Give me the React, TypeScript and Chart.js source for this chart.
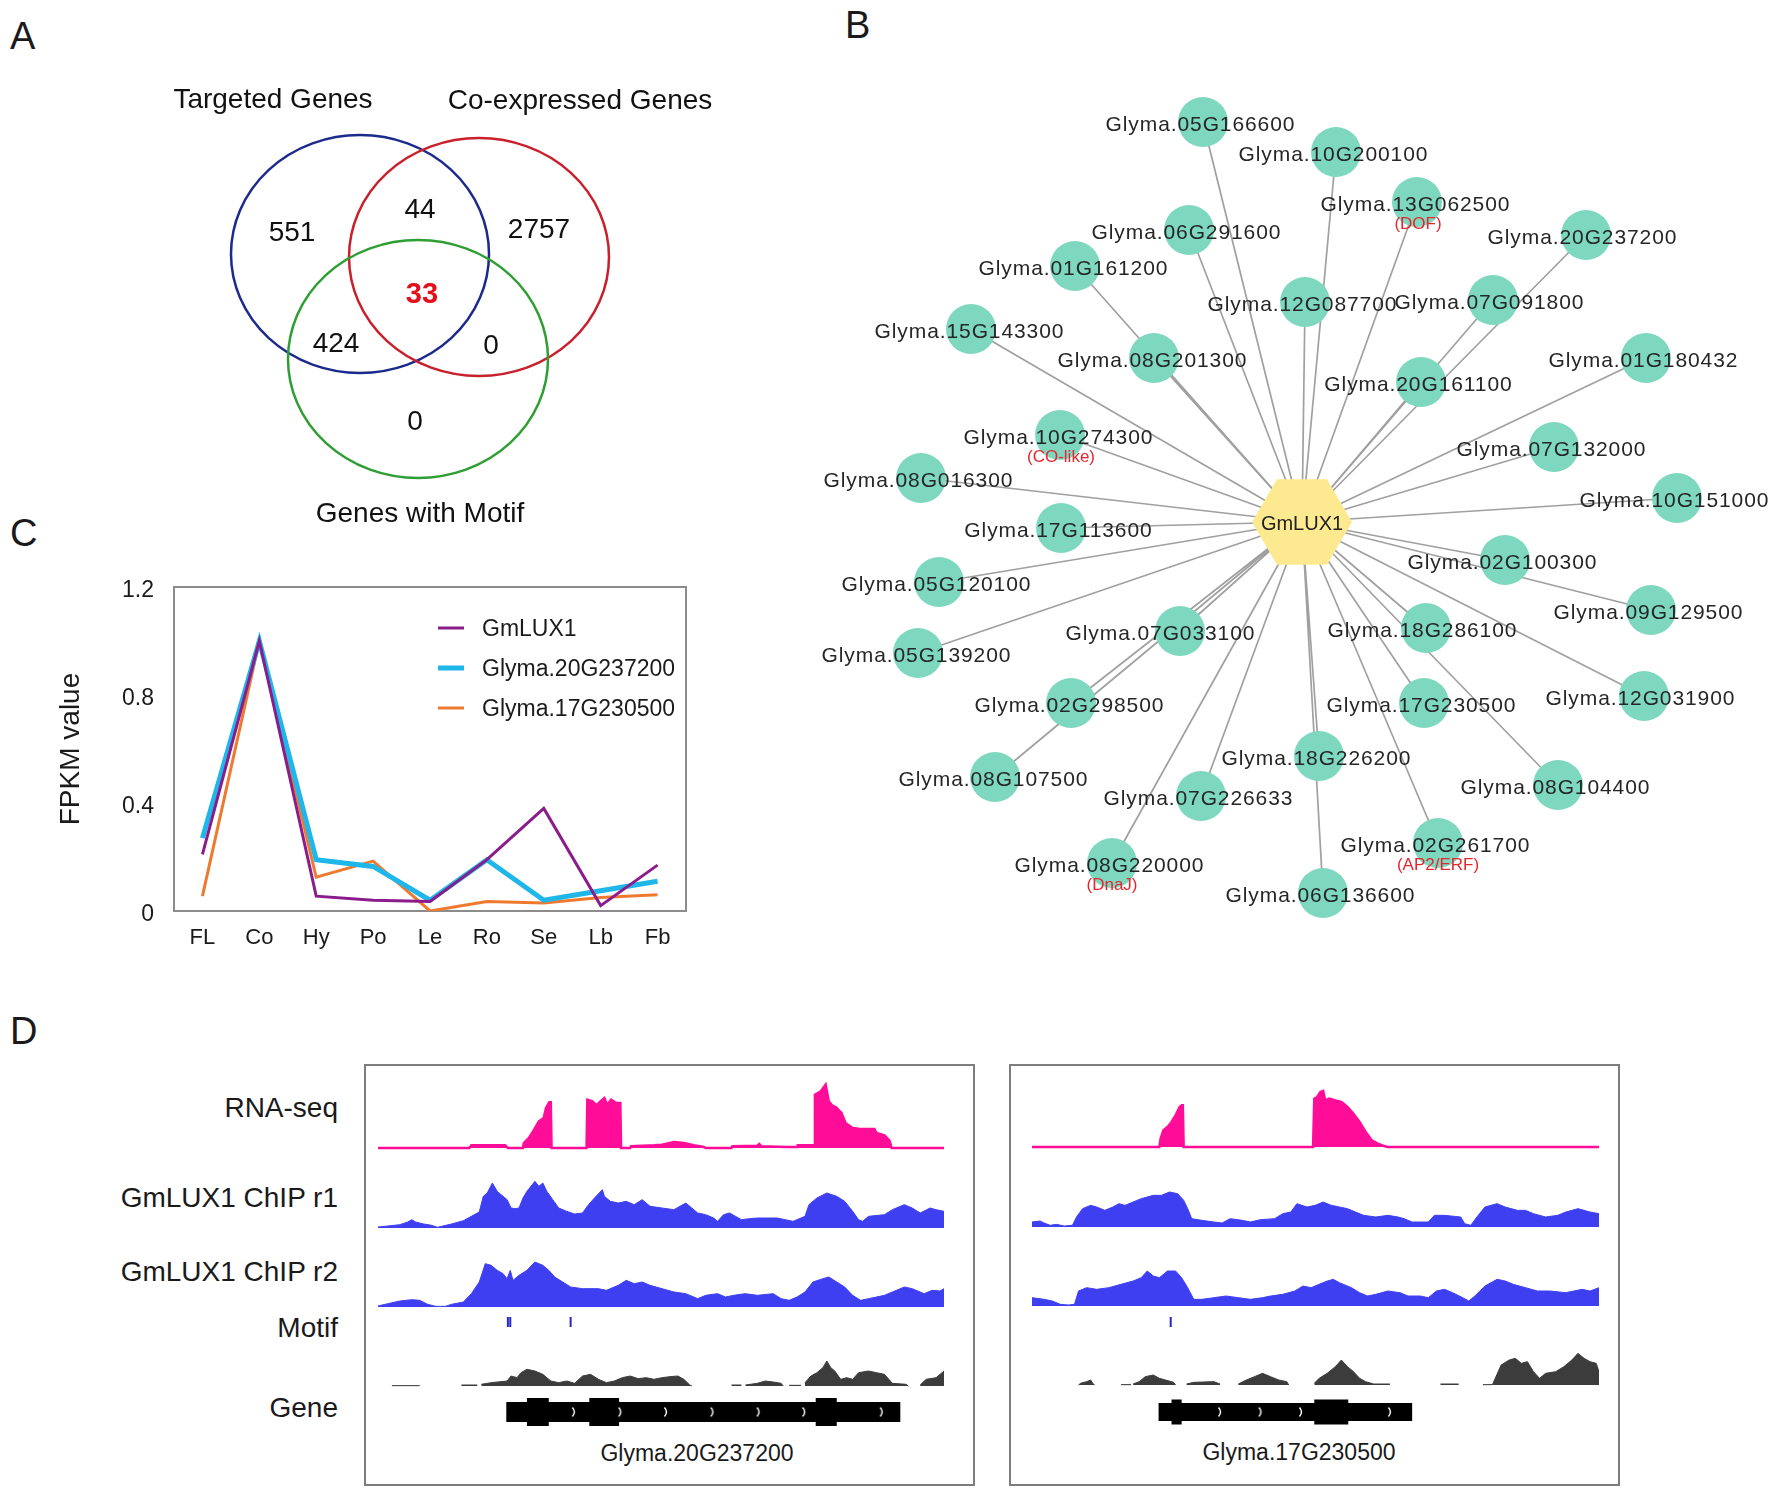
import React, { useEffect, useRef } from 'react';
import { Chart, registerables } from 'chart.js';
Chart.register(...registerables);

const FONT = 'Arial, "Liberation Sans", Helvetica, sans-serif';

// ---------------- Panel A : Venn ----------------
const vennSetNames = ['Targeted Genes', 'Co-expressed Genes', 'Genes with Motif'];
const vennSetColors = ['#1c2a8c', '#c8202c', '#2f9e35'];
// regions: T only, T∩C, C only, T∩M, T∩C∩M, C∩M, M only
const vennRegionCounts = [551, 44, 2757, 424, 33, 0, 0];
const vennHighlight = 4;

// ---------------- Panel B : network ----------------
const hubGene = 'GmLUX1';
const targetGenes = [
  'Glyma.05G166600', 'Glyma.10G200100', 'Glyma.13G062500', 'Glyma.20G237200', 'Glyma.06G291600',
  'Glyma.01G161200', 'Glyma.12G087700', 'Glyma.07G091800', 'Glyma.15G143300', 'Glyma.08G201300',
  'Glyma.01G180432', 'Glyma.20G161100', 'Glyma.10G274300', 'Glyma.07G132000', 'Glyma.08G016300',
  'Glyma.10G151000', 'Glyma.17G113600', 'Glyma.05G120100', 'Glyma.02G100300', 'Glyma.09G129500',
  'Glyma.05G139200', 'Glyma.07G033100', 'Glyma.18G286100', 'Glyma.12G031900', 'Glyma.02G298500',
  'Glyma.17G230500', 'Glyma.18G226200', 'Glyma.08G107500', 'Glyma.08G104400', 'Glyma.07G226633',
  'Glyma.02G261700', 'Glyma.08G220000', 'Glyma.06G136600',
];
const targetFamilies = [
  '', '', '(DOF)', '', '', '', '', '', '', '', '', '', '(CO-like)', '', '', '', '', '', '', '',
  '', '', '', '', '', '', '', '', '', '', '(AP2/ERF)', '(DnaJ)', '',
];
// network layout coordinates (Cytoscape-like layout units)
const layoutX = [
  1203, 1336, 1417, 1586, 1189, 1075, 1305, 1493, 971, 1154, 1646, 1421, 1060, 1554, 921, 1677, 1061,
  939, 1505, 1651, 918, 1180, 1426, 1644, 1071, 1424, 1319, 995, 1558, 1201, 1438, 1112, 1323,
];
const layoutY = [
  122, 152, 202, 235, 230, 266, 302, 300, 329, 358, 358, 382, 435, 447, 478, 498, 528,
  582, 560, 610, 653, 631, 628, 696, 703, 703, 756, 777, 785, 796, 843, 863, 893,
];
const hubLayout = { x: 1302, y: 522 };

// ---------------- Panel C : expression ----------------
const tissues = ['FL', 'Co', 'Hy', 'Po', 'Le', 'Ro', 'Se', 'Lb', 'Fb'];
const fpkmGmLUX1 = [0.21, 1.0, 0.055, 0.04, 0.035, 0.19, 0.38, 0.02, 0.17];
const fpkm20G237200 = [0.27, 1.0, 0.19, 0.165, 0.04, 0.19, 0.04, 0.075, 0.11];
const fpkm17G230500 = [0.055, 1.0, 0.125, 0.185, 0.0, 0.035, 0.03, 0.05, 0.06];
const fpkmTicks = [0, 0.4, 0.8, 1.2];

// ---------------- Panel D : tracks ----------------
const trackNames = ['RNA-seq', 'GmLUX1 ChIP r1', 'GmLUX1 ChIP r2', 'Motif', 'Gene'];
const locusNames = ['Glyma.20G237200', 'Glyma.17G230500'];
const windowLeft = [45, 1470];
const windowRight = [80, 1482];

const rnaLeft = [[45,0],[275,0],[280,8],[365,8],[372,0],[410,0],[412,15],[425,30],[438,55],[450,80],[462,90],[468,120],[476,137],[480,137],[482,0],[570,0],[572,145],[585,140],[595,128],[605,140],[615,150],[622,130],[632,145],[645,135],[655,135],[657,0],[680,0],[682,5],[740,8],[760,10],[790,18],[815,15],[840,8],[865,3],[870,0],[935,0],[937,5],[1000,7],[1005,12],[1010,5],[1075,3],[1100,3],[1102,8],[1143,8],[1145,160],[1160,170],[1172,190],[1180,140],[1188,128],[1198,122],[1212,105],[1222,75],[1240,60],[1255,58],[1295,57],[1300,45],[1320,38],[1333,22],[1338,0],[1470,0]];
const chip1Left = [[45,3],[70,6],[100,10],[120,18],[130,25],[140,18],[160,12],[180,8],[195,2],[205,5],[230,12],[260,22],[280,35],[300,48],[310,95],[320,105],[333,135],[345,110],[355,100],[370,85],[380,60],[390,58],[400,60],[410,90],[420,110],[440,140],[450,125],[460,135],[470,110],[485,85],[500,60],[520,50],[540,42],[560,45],[575,70],[590,90],[610,115],[615,95],[630,80],[650,75],[670,80],[690,70],[710,85],[730,65],[760,60],[790,55],[820,75],[835,60],[850,45],[870,40],[890,30],[900,20],[915,40],[930,45],[945,35],[960,25],[980,28],[1000,30],[1050,30],[1070,25],[1090,20],[1100,25],[1120,35],[1130,70],[1150,90],[1175,105],[1200,95],[1220,80],[1240,50],[1255,25],[1265,20],[1280,35],[1320,40],[1340,55],[1370,70],[1390,60],[1410,45],[1435,60],[1450,55],[1470,50]];
const chip2Left = [[45,3],[70,10],[100,18],[130,22],[150,20],[170,8],[190,2],[215,2],[230,8],[260,15],[280,40],[300,75],[315,130],[330,125],[345,110],[360,100],[370,85],[378,110],[385,80],[400,95],[420,110],[440,135],[460,125],[475,110],[490,90],[510,75],[530,60],[560,55],[600,55],[620,50],[650,65],[670,80],[690,70],[710,75],[730,65],[760,55],[790,45],[820,40],[850,25],[870,35],[900,40],[920,30],[940,35],[970,40],[1000,35],[1040,40],[1060,25],[1080,20],[1100,30],[1120,45],[1140,75],[1165,85],[1180,90],[1200,75],[1220,60],[1240,35],[1260,20],[1280,25],[1320,35],[1340,45],[1370,60],[1390,55],[1420,40],[1440,50],[1460,48],[1470,55]];
const otherLeft = [[80,1],[150,1],[152,null],[255,3],[295,3],[300,null],[305,5],[330,10],[370,15],[380,30],[395,25],[405,40],[420,50],[440,45],[460,35],[480,15],[500,10],[520,15],[540,8],[560,30],[580,35],[600,20],[620,10],[640,15],[660,25],[680,30],[700,22],[720,25],[740,20],[760,25],[780,28],[800,30],[815,20],[830,3],[835,0],[840,null],[935,3],[960,3],[965,null],[970,3],[1000,8],[1020,15],[1040,12],[1060,8],[1065,0],[1070,null],[1080,2],[1110,2],[1115,null],[1120,10],[1135,30],[1150,40],[1165,55],[1175,75],[1185,55],[1195,45],[1210,20],[1225,25],[1240,20],[1255,40],[1280,45],[1300,40],[1320,35],[1340,8],[1375,5],[1380,0],[1385,null],[1410,3],[1425,20],[1450,25],[1465,40],[1470,45]];
const motifLeft = [372, 378, 530];
const geneBodyLeft = [368, 1360];
const exonsLeft = [[420, 475], [577, 652], [1147, 1200]];
const strandMarksLeft = [538, 655, 770, 887, 1003, 1118, 1313];

const rnaRight = [[80,0],[395,0],[398,25],[405,50],[415,60],[425,75],[435,95],[445,120],[450,125],[453,125],[455,0],[775,0],[778,145],[785,150],[793,165],[800,168],[805,140],[815,145],[830,140],[845,135],[860,120],[875,100],[890,75],[905,45],[920,20],[935,10],[950,3],[960,0],[1482,0]];
const chip1Right = [[80,15],[100,18],[110,12],[125,5],[140,8],[160,3],[180,5],[190,30],[205,55],[225,65],[240,60],[260,50],[280,60],[295,70],[310,65],[330,75],[350,85],[365,90],[380,95],[400,95],[420,105],[440,100],[455,80],[465,55],[475,25],[500,20],[530,15],[550,12],[570,25],[600,20],[620,15],[645,22],[680,25],[700,40],[720,45],[735,70],[760,60],[780,65],[800,75],[820,65],[840,60],[860,55],[880,45],[900,35],[930,30],[960,35],[985,30],[1000,25],[1020,15],[1060,15],[1075,35],[1100,35],[1140,30],[1150,10],[1165,5],[1180,30],[1200,60],[1230,70],[1250,60],[1280,50],[1300,50],[1320,40],[1350,30],[1380,35],[1400,45],[1430,55],[1460,45],[1482,40]];
const chip2Right = [[80,25],[110,20],[130,15],[150,5],[170,3],[185,5],[195,45],[215,55],[240,50],[270,55],[300,65],[330,75],[350,85],[365,105],[380,90],[395,85],[415,105],[435,105],[450,85],[465,55],[480,20],[500,20],[530,25],[560,30],[590,25],[620,20],[650,25],[670,30],[700,35],[730,45],[750,60],[770,55],[790,65],[810,75],[825,80],[840,70],[870,55],[890,40],[910,30],[930,35],[960,45],[990,40],[1010,30],[1040,30],[1060,25],[1080,45],[1100,50],[1120,40],[1145,25],[1160,15],[1175,30],[1200,60],[1230,80],[1250,75],[1270,65],[1300,55],[1330,45],[1360,45],[1400,40],[1440,50],[1460,45],[1482,55]];
const otherRight = [[195,0],[200,5],[215,10],[225,15],[230,5],[235,0],[240,null],[300,1],[325,1],[328,null],[330,3],[345,10],[360,25],[380,30],[395,20],[410,15],[430,8],[435,0],[440,null],[462,3],[480,8],[530,10],[545,3],[550,null],[590,3],[610,15],[630,25],[650,35],[670,25],[690,15],[710,10],[715,0],[720,null],[778,5],[790,20],[810,35],[830,55],[845,75],[860,55],[875,40],[890,20],[905,10],[925,3],[965,3],[970,null],[1090,3],[1135,3],[1140,null],[1195,1],[1218,1],[1220,5],[1240,60],[1260,75],[1275,80],[1290,65],[1305,70],[1320,40],[1335,20],[1350,35],[1375,40],[1395,55],[1415,75],[1430,95],[1445,80],[1460,70],[1475,65],[1482,40]];
const motifRight = [423];
const geneBodyRight = [393, 1020];
const exonsRight = [[425, 450], [778, 862]];
const strandMarksRight = [545, 645, 745, 965];

// ---------------- layout (positions / styles only) ----------------
const L = {
  venn: {
    canvas: { left: 0, top: 0, width: 780, height: 540 },
    circles: [
      { cx: 360, cy: 254, rx: 129, ry: 119 },
      { cx: 479, cy: 257, rx: 130, ry: 119 },
      { cx: 418, cy: 359, rx: 130, ry: 119 },
    ],
    titles: [[273, 98], [580, 99], [420, 512]],
    regions: [[292, 231], [420, 208], [539, 228], [336, 342], [422, 293], [491, 344], [415, 420]],
  },
  net: {
    canvas: { left: 780, top: 60, width: 992, height: 880 },
    labelDx: [-3, -3, -2, -4, -3, -2, -3, -4, -2, -2, -3, -3, -2, -3, -3, -3, -3, -3, -3, -3, -2, -20, -4, -4, -2, -3, -3, -2, -3, -3, -3, -3, -3],
  },
  expr: { canvas: { left: 0, top: 540, width: 730, height: 440 } },
  tracks: {
    colLeft: { left: 378, width: 566 },
    colRight: { left: 1032, width: 567 },
  },
};

function makeCanvasImage(w: number, h: number, draw: (ctx: CanvasRenderingContext2D) => void) {
  const c = document.createElement('canvas');
  c.width = w; c.height = h;
  const ctx = c.getContext('2d')!;
  draw(ctx);
  return c;
}

function capText(ctx: any, text: string, x: number, cy: number, size: number, opts: any = {}) {
  ctx.save();
  ctx.font = `${opts.weight || 'normal'} ${size}px ${FONT}`;
  ctx.fillStyle = opts.color || '#1a1a1a';
  ctx.textAlign = opts.align || 'center';
  ctx.textBaseline = 'alphabetic';
  if (opts.spacing) ctx.letterSpacing = opts.spacing + 'px';
  const shift = opts.spacing && (opts.align || 'center') === 'center' ? opts.spacing / 2 : 0;
  ctx.fillText(text, x + shift, cy + 0.358 * size);
  ctx.restore();
}

const baseOptions = (xMin: number, xMax: number, yMin: number, yMax: number, yReverse = false) => ({
  animation: false,
  responsive: false,
  maintainAspectRatio: false,
  events: [],
  layout: { padding: 0, autoPadding: false },
  plugins: { legend: { display: false }, tooltip: { enabled: false } },
  scales: {
    x: { type: 'linear', display: false, min: xMin, max: xMax },
    y: { type: 'linear', display: false, min: yMin, max: yMax, reverse: yReverse },
  },
});

function ChartCanvas({ box, make }: any) {
  const ref = useRef<HTMLCanvasElement>(null);
  useEffect(() => {
    const chart = new Chart(ref.current as HTMLCanvasElement, make());
    return () => chart.destroy();
  }, []);
  return (
    <canvas
      ref={ref}
      width={box.width}
      height={box.height}
      style={{ position: 'absolute', left: box.left, top: box.top, width: box.width, height: box.height }}
    />
  );
}

function TextLabel({ x, y, size, align = 'left', color = '#1a1a1a', children }: any) {
  const style: any = {
    position: 'absolute', top: y - 0.4885 * size, fontSize: size, lineHeight: size + 'px',
    fontFamily: FONT, color, whiteSpace: 'nowrap',
  };
  if (align === 'left') style.left = x;
  else if (align === 'right') { style.left = x - 1000; style.width = 1000; style.textAlign = 'right'; }
  else { style.left = x - 500; style.width = 1000; style.textAlign = 'center'; }
  return <div style={style}>{children}</div>;
}

// ---------- Venn config
function vennConfig() {
  const V = L.venn;
  const plugin = {
    id: 'venn',
    afterDatasetsDraw(chart: any) {
      const { ctx } = chart;
      const sx = chart.scales.x, sy = chart.scales.y;
      V.circles.forEach((c, i) => {
        const px = sx.getPixelForValue(c.cx), py = sy.getPixelForValue(c.cy);
        const rx = Math.abs(sx.getPixelForValue(c.cx + c.rx) - px);
        const ry = Math.abs(sy.getPixelForValue(c.cy + c.ry) - py);
        ctx.save();
        ctx.strokeStyle = vennSetColors[i];
        ctx.lineWidth = 2.5;
        ctx.beginPath();
        ctx.ellipse(px, py, rx, ry, 0, 0, Math.PI * 2);
        ctx.stroke();
        ctx.restore();
      });
      vennSetNames.forEach((n, i) => {
        const [x, y] = V.titles[i];
        capText(ctx, n, sx.getPixelForValue(x), sy.getPixelForValue(y), 28, { color: '#111' });
      });
      vennRegionCounts.forEach((v, i) => {
        const [x, y] = V.regions[i];
        const hi = i === vennHighlight;
        capText(ctx, String(v), sx.getPixelForValue(x), sy.getPixelForValue(y), hi ? 29 : 28,
          { color: hi ? '#e3101c' : '#111', weight: hi ? 'bold' : 'normal' });
      });
    },
  };
  return {
    type: 'scatter',
    data: { datasets: [{ data: V.circles.map((c) => ({ x: c.cx, y: c.cy })), pointRadius: 0 }] },
    options: baseOptions(0, V.canvas.width, 0, V.canvas.height, true),
    plugins: [plugin],
  };
}

// ---------- Network config
function networkConfig() {
  const C = L.net.canvas;
  const edges: any[] = [];
  targetGenes.forEach((_, i) => {
    edges.push({ x: hubLayout.x, y: hubLayout.y }, { x: layoutX[i], y: layoutY[i] }, { x: NaN, y: NaN });
  });
  const hex = makeCanvasImage(102, 90, (ctx) => {
    const r = 50, cx = 51, cy = 45;
    ctx.fillStyle = '#fde98f';
    ctx.beginPath();
    for (let k = 0; k < 6; k++) {
      const a = (Math.PI / 3) * k;
      const x = cx + r * Math.cos(a), y = cy + r * Math.sin(a) * 0.99;
      if (k === 0) ctx.moveTo(x, y); else ctx.lineTo(x, y);
    }
    ctx.closePath();
    ctx.fill();
  });
  const labels = {
    id: 'netLabels',
    afterDatasetsDraw(chart: any) {
      const { ctx } = chart;
      const sx = chart.scales.x, sy = chart.scales.y;
      targetGenes.forEach((g, i) => {
        const px = sx.getPixelForValue(layoutX[i]) + L.net.labelDx[i];
        const py = sy.getPixelForValue(layoutY[i]);
        capText(ctx, g, px, py + 1, 21, { color: '#262626', spacing: 0.9 });
        if (targetFamilies[i]) capText(ctx, targetFamilies[i], px + 3, py + 21, 17, { color: '#e5262e' });
      });
      capText(ctx, hubGene, sx.getPixelForValue(hubLayout.x), sy.getPixelForValue(hubLayout.y) + 1, 20, { color: '#222' });
    },
  };
  return {
    type: 'scatter',
    data: {
      datasets: [
        { data: [{ x: hubLayout.x, y: hubLayout.y }], pointStyle: hex, pointRadius: 50, order: 1 },
        { data: targetGenes.map((_, i) => ({ x: layoutX[i], y: layoutY[i] })), pointRadius: 25,
          backgroundColor: '#7dd8bf', borderWidth: 0, order: 2 },
        { data: edges, showLine: true, spanGaps: false, borderColor: '#a0a0a0', borderWidth: 1.7,
          pointRadius: 0, order: 3 },
      ],
    },
    options: baseOptions(C.left, C.left + C.width, C.top, C.top + C.height, true),
    plugins: [labels],
  };
}

// ---------- Expression config
function exprConfig() {
  const series = [
    { label: 'GmLUX1', data: fpkmGmLUX1, color: '#8b1c8c', w: 3 },
    { label: 'Glyma.20G237200', data: fpkm20G237200, color: '#1fb6ea', w: 5 },
    { label: 'Glyma.17G230500', data: fpkm17G230500, color: '#ee7a2f', w: 3 },
  ];
  const boxPlugin = {
    id: 'box',
    beforeDatasetsDraw(chart: any) {
      const { ctx, chartArea: a } = chart;
      ctx.save();
      ctx.strokeStyle = '#8c8c8c';
      ctx.lineWidth = 2;
      ctx.strokeRect(a.left, a.top, a.right - a.left, a.bottom - a.top);
      ctx.restore();
    },
  };
  const legendPlugin = {
    id: 'lgd',
    afterDraw(chart: any) {
      const { ctx } = chart;
      chart.data.datasets.forEach((d: any, i: number) => {
        const y = 88 + 40 * i;
        ctx.save();
        ctx.strokeStyle = d.borderColor;
        ctx.lineWidth = d.borderWidth;
        ctx.beginPath();
        ctx.moveTo(438, y);
        ctx.lineTo(464, y);
        ctx.stroke();
        ctx.restore();
        capText(ctx, d.label, 482, y, 23, { align: 'left', color: '#1a1a1a' });
      });
    },
  };
  return {
    type: 'line',
    data: {
      labels: tissues,
      datasets: series.map((s) => ({
        label: s.label, data: s.data, borderColor: s.color, backgroundColor: s.color,
        borderWidth: s.w, pointRadius: 0, tension: 0, fill: false,
      })),
    },
    options: {
      animation: false,
      responsive: false,
      maintainAspectRatio: false,
      events: [],
      layout: { padding: { left: 0, top: 47, right: 44, bottom: 0 }, autoPadding: false },
      plugins: { legend: { display: false }, tooltip: { enabled: false } },
      scales: {
        x: {
          type: 'category', offset: true,
          grid: { display: false, drawTicks: false }, border: { display: false },
          ticks: { padding: 14, color: '#1a1a1a', font: { family: FONT, size: 22 } },
          afterFit: (s: any) => { s.height = 69; },
        },
        y: {
          type: 'linear', min: 0, max: 1.2,
          grid: { display: false, drawTicks: false }, border: { display: false },
          afterBuildTicks: (s: any) => { s.ticks = fpkmTicks.map((v) => ({ value: v })); },
          ticks: {
            padding: 20, labelOffset: 4, color: '#1a1a1a', font: { family: FONT, size: 23 },
            callback: (v: any) => (v === 0 ? '0' : Number(v).toFixed(1)),
          },
          title: {
            display: true, text: 'FPKM value', color: '#1a1a1a',
            font: { family: FONT, size: 28 }, padding: { top: 54, bottom: 0 },
          },
          afterFit: (s: any) => { s.width = 174; },
        },
      },
    },
    plugins: [boxPlugin, legendPlugin],
  };
}

// ---------- track configs
function coverageConfig(points: any[], win: number[], color: string, above: number, lineW: number) {
  const below = 2;
  return () => ({
    type: 'line',
    data: {
      datasets: [{
        data: points.map(([x, y]) => ({ x, y })),
        borderColor: color, backgroundColor: color, borderWidth: lineW,
        fill: 'origin', pointRadius: 0, tension: 0, spanGaps: false,
      }],
    },
    options: baseOptions(win[0], win[1], -below * 3, above * 3),
  });
}

function motifConfig(sites: number[], win: number[]) {
  return () => ({
    type: 'scatter',
    data: {
      datasets: [{
        data: sites.map((x) => ({ x, y: 0 })), pointStyle: 'line', rotation: 90,
        pointRadius: 5, borderWidth: 2, borderColor: '#2626c9',
      }],
    },
    options: baseOptions(win[0], win[1], -1, 1),
  });
}

function geneConfig(body: number[], exons: number[][], marks: number[], win: number[], bodyW: number, exonW: number) {
  const exonPts: any[] = [];
  exons.forEach(([s, e]) => exonPts.push({ x: s, y: 0 }, { x: e, y: 0 }, { x: NaN, y: NaN }));
  const chevron = makeCanvasImage(8, 12, (ctx) => {
    ctx.strokeStyle = '#ffffff';
    ctx.lineWidth = 1.4;
    ctx.beginPath();
    ctx.moveTo(2.5, 1.5);
    ctx.quadraticCurveTo(6.5, 6, 2.5, 10.5);
    ctx.stroke();
  });
  return () => ({
    type: 'scatter',
    data: {
      datasets: [
        { data: marks.map((x) => ({ x, y: 0 })), pointStyle: chevron, pointRadius: 6, order: 0 },
        { data: exonPts, showLine: true, spanGaps: false, borderColor: '#000', borderWidth: exonW,
          borderCapStyle: 'butt', pointRadius: 0, order: 1 },
        { data: body.map((x) => ({ x, y: 0 })), showLine: true, borderColor: '#000', borderWidth: bodyW,
          borderCapStyle: 'butt', pointRadius: 0, order: 2 },
      ],
    },
    options: baseOptions(win[0], win[1], -1, 1),
  });
}

function TrackColumn({ col, win, rna, chip1, chip2, other, motif, body, exons, marks, base, bodyW, exonW }: any) {
  const mk = (top: number, height: number) => ({ left: col.left, width: col.width, top, height });
  return (
    <>
      <ChartCanvas box={mk(base.rna - 70, 72)} make={coverageConfig(rna, win, '#ff0d98', 70, 2.5)} />
      <ChartCanvas box={mk(base.r1 - 52, 54)} make={coverageConfig(chip1, win, '#3f3ff2', 52, 1)} />
      <ChartCanvas box={mk(base.r2 - 52, 54)} make={coverageConfig(chip2, win, '#3f3ff2', 52, 1)} />
      <ChartCanvas box={mk(1312, 20)} make={motifConfig(motif, win)} />
      <ChartCanvas box={mk(base.other - 36, 38)} make={coverageConfig(other, win, '#3c3c3c', 36, 1)} />
      <ChartCanvas box={mk(1392, 40)} make={geneConfig(body, exons, marks, win, bodyW, exonW)} />
    </>
  );
}

export default function App() {
  const boxStyle = (left: number): any => ({
    position: 'absolute', left, top: 1064, width: 611, height: 422,
    border: '2px solid #7d7d7d', boxSizing: 'border-box',
  });
  return (
    <div style={{ position: 'absolute', left: 0, top: 0, width: 1772, height: 1497, background: '#fff', overflow: 'hidden' }}>
      <TextLabel x={10} y={36} size={38}>A</TextLabel>
      <TextLabel x={845} y={25} size={38}>B</TextLabel>
      <TextLabel x={10} y={533} size={38}>C</TextLabel>
      <TextLabel x={10} y={1031} size={38}>D</TextLabel>

      <ChartCanvas box={L.venn.canvas} make={vennConfig} />
      <ChartCanvas box={L.net.canvas} make={networkConfig} />
      <ChartCanvas box={L.expr.canvas} make={exprConfig} />

      <div style={boxStyle(364)} />
      <div style={boxStyle(1009)} />

      <TextLabel x={338} y={1108} size={28} align="right">{trackNames[0]}</TextLabel>
      <TextLabel x={338} y={1198} size={28} align="right">{trackNames[1]}</TextLabel>
      <TextLabel x={338} y={1272} size={28} align="right">{trackNames[2]}</TextLabel>
      <TextLabel x={338} y={1328} size={28} align="right">{trackNames[3]}</TextLabel>
      <TextLabel x={338} y={1408} size={28} align="right">{trackNames[4]}</TextLabel>

      <TrackColumn
        col={L.tracks.colLeft} win={windowLeft} rna={rnaLeft} chip1={chip1Left} chip2={chip2Left}
        other={otherLeft} motif={motifLeft} body={geneBodyLeft} exons={exonsLeft} marks={strandMarksLeft}
        base={{ rna: 1148, r1: 1228, r2: 1307, other: 1386 }} bodyW={20} exonW={28}
      />
      <TrackColumn
        col={L.tracks.colRight} win={windowRight} rna={rnaRight} chip1={chip1Right} chip2={chip2Right}
        other={otherRight} motif={motifRight} body={geneBodyRight} exons={exonsRight} marks={strandMarksRight}
        base={{ rna: 1147, r1: 1227, r2: 1306, other: 1385 }} bodyW={18} exonW={25}
      />

      <TextLabel x={697} y={1453} size={23} align="center">{locusNames[0]}</TextLabel>
      <TextLabel x={1299} y={1452} size={23} align="center">{locusNames[1]}</TextLabel>
    </div>
  );
}
